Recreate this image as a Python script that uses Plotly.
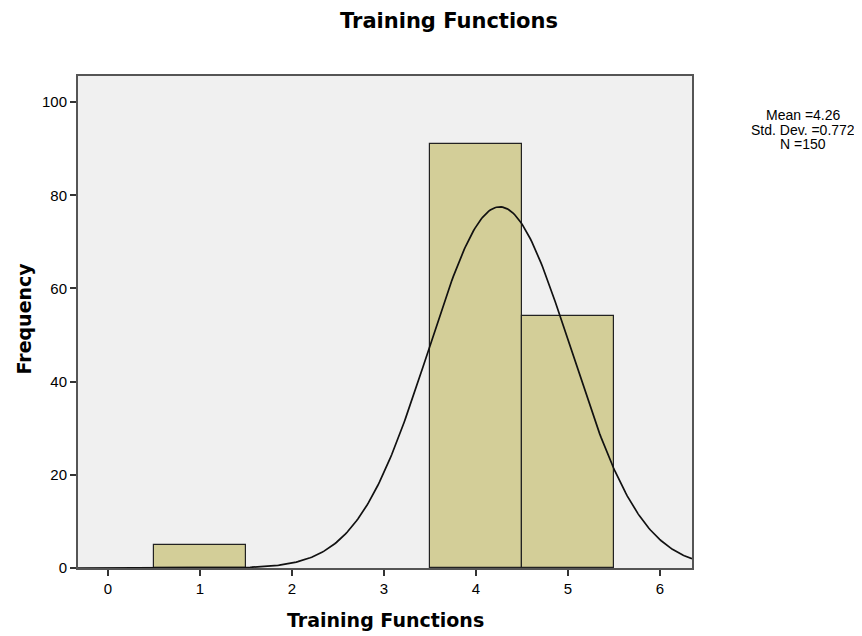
import numpy as np
import plotly.graph_objects as go

categories = [1, 4, 5]
frequencies = [5, 91, 54]
mean_val = 4.26
std_val = 0.772
n_val = 150
x_ticks = [0, 1, 2, 3, 4, 5, 6]
y_ticks = [0, 20, 40, 60, 80, 100]
stats_lines = ["Mean =4.26", "Std. Dev. =0.772", "N =150"]

xs = np.linspace(-0.33, 6.35, 400)
ys = n_val / (std_val * np.sqrt(2 * np.pi)) * np.exp(-0.5 * ((xs - mean_val) / std_val) ** 2)

BOLD = "DejaVu Sans"
REG = "Arial, Liberation Sans"

fig = go.Figure()
fig.add_trace(go.Bar(x=categories, y=frequencies, width=1.0,
                     marker=dict(color="#D3CE98", line=dict(color="#222222", width=1.2)),
                     showlegend=False))
fig.add_trace(go.Scatter(x=xs, y=ys, mode="lines", line=dict(color="#111111", width=1.7),
                         showlegend=False))

W, H = 862, 636
L, T = 70, 68
PW, PH = 614, 492
fig.update_layout(
    width=W, height=H,
    paper_bgcolor="white", plot_bgcolor="#F0F0F0",
    margin=dict(l=L, r=W - L - PW, t=T, b=H - T - PH),
    title=dict(text="<b>Training Functions</b>", x=441 / W, xanchor="center", xref="container",
               y=1 - 13 / H, yanchor="middle", yref="container",
               font=dict(family=BOLD, size=21, color="#000")),
    font=dict(family=REG, color="#000"),
    bargap=0,
)
fig.update_xaxes(range=[-0.326, 6.35], tickvals=x_ticks, ticks="outside", ticklen=6,
                 tickcolor="#333", tickwidth=1.5, showgrid=False, zeroline=False,
                 showline=True, linecolor="#555", linewidth=2, mirror=True,
                 tickfont=dict(size=15, family=REG))
fig.update_yaxes(range=[0, 105.6], tickvals=y_ticks, ticks="outside", ticklen=6,
                 tickcolor="#333", tickwidth=1.5, showgrid=False, zeroline=False,
                 showline=True, linecolor="#555", linewidth=2, mirror=True,
                 tickfont=dict(size=15, family=REG))

# axis titles
fig.add_annotation(xref="paper", yref="paper", x=0.5, y=-(619 - 567) / PH,
                   text="<b>Training Functions</b>", showarrow=False,
                   xanchor="center", yanchor="middle",
                   font=dict(family=BOLD, size=19, color="#000"))
fig.add_annotation(xref="paper", yref="paper", x=-(76 - 21) / PW, y=(567 - 317.5) / PH,
                   text="<b>Frequency</b>", showarrow=False, textangle=-90,
                   xanchor="center", yanchor="middle",
                   font=dict(family=BOLD, size=19, color="#000"))

for line, yc in zip(stats_lines, [114, 128.5, 143]):
    fig.add_annotation(xref="paper", yref="paper", x=(801 - 76) / PW, y=(567 - yc) / PH,
                       text=line, showarrow=False, xanchor="center", yanchor="middle",
                       font=dict(size=14, family=REG, color="#000"))

fig.write_html("out.html")
